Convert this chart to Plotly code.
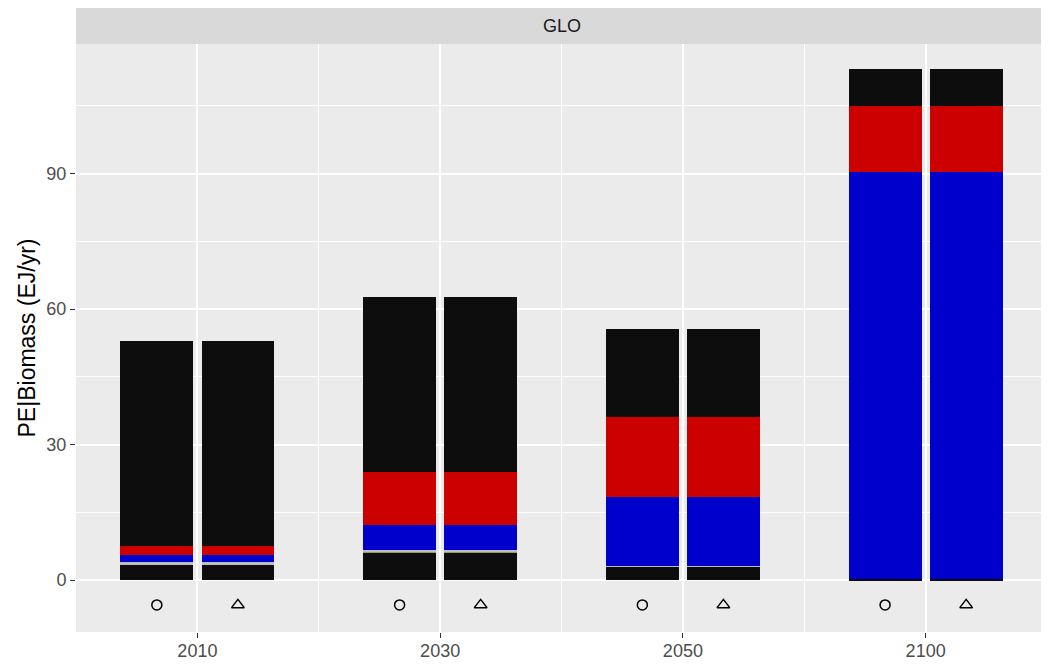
import plotly.graph_objects as go

years = ["2010", "2030", "2050", "2100"]
# stacked layers, bottom to top (EJ/yr)
layer_names = ["Base", "Olive", "Grey", "Blue", "Red", "Top"]
base_vals = [3.5, 6.0, 3.0, 0.3]
olive_vals = [0.0, 0.35, 0.0, 0.0]
grey_vals = [0.44, 0.25, 0.2, 0.0]
blue_vals = [1.55, 5.6, 15.1, 90.0]
red_vals = [2.15, 11.7, 17.9, 14.6]
top_vals = [45.2, 38.7, 19.3, 8.2]
layer_colors = ["#0d0d0d", "#9a9a66", "#bebebe", "#0000cd", "#cd0000", "#0d0d0d"]
scenarios = ["circle-open", "triangle-up-open"]
marker_sizes = [10, 11]
marker_y = -5.5

layers = [base_vals, olive_vals, grey_vals, blue_vals, red_vals, top_vals]
pos = [1, 2, 3, 4]
offsets = [-0.167, 0.167]
bar_w = 0.30

fig = go.Figure()
for name, vals, col in zip(layer_names, layers, layer_colors):
    xs, ys = [], []
    for off in offsets:
        for p, v in zip(pos, vals):
            xs.append(p + off)
            ys.append(v)
    fig.add_trace(go.Bar(x=xs, y=ys, width=bar_w, marker=dict(color=col, line=dict(width=0)),
                         name=name, showlegend=False))

for off, sym, ms in zip(offsets, scenarios, marker_sizes):
    fig.add_trace(go.Scatter(x=[p + off for p in pos], y=[marker_y] * len(pos), mode="markers",
                             marker=dict(symbol=sym, size=ms, color="black", line=dict(width=1.5, color="black")),
                             showlegend=False))

fig.update_layout(
    barmode="stack",
    width=1041, height=656,
    margin=dict(l=68, r=2, t=36, b=32, autoexpand=False),
    paper_bgcolor="white",
    plot_bgcolor="#ebebeb",
    font=dict(family="Liberation Sans, Arial, sans-serif"),
    xaxis=dict(range=[0.5, 4.5], tickmode="array", tickvals=pos, ticktext=years,
               showgrid=True, gridcolor="white", gridwidth=2, zeroline=False,
               ticks="outside", ticklen=5, tickcolor="#333333", automargin=False,
               ticklabelstandoff=-3,
               tickfont=dict(size=18, color="#4d4d4d"),
               minor=dict(tick0=0.5, dtick=1, showgrid=True, gridcolor="white", gridwidth=1, ticks="")),
    yaxis=dict(range=[-11.5, 118.7], tickmode="array", tickvals=[0, 30, 60, 90],
               showgrid=True, gridcolor="white", gridwidth=2, zeroline=False,
               ticks="outside", ticklen=5, tickcolor="#333333", automargin=False,
               tickfont=dict(size=18, color="#4d4d4d"),
               title=dict(text="PE|Biomass (EJ/yr)", font=dict(size=23, color="black"), standoff=4),
               minor=dict(tickmode="array", tickvals=[15, 45, 75, 105], showgrid=True,
                          gridcolor="white", gridwidth=1, ticks="")),
    shapes=[dict(type="rect", xref="paper", yref="paper", x0=0, x1=1, y0=1, y1=1 + 36 / 588,
                 fillcolor="#d9d9d9", line=dict(width=0))],
    annotations=[dict(text="GLO", xref="paper", yref="paper", x=0.5, y=1 + 18 / 588,
                      showarrow=False, font=dict(size=18, color="#1a1a1a"), yanchor="middle")],
)

fig.write_html("out.html")
